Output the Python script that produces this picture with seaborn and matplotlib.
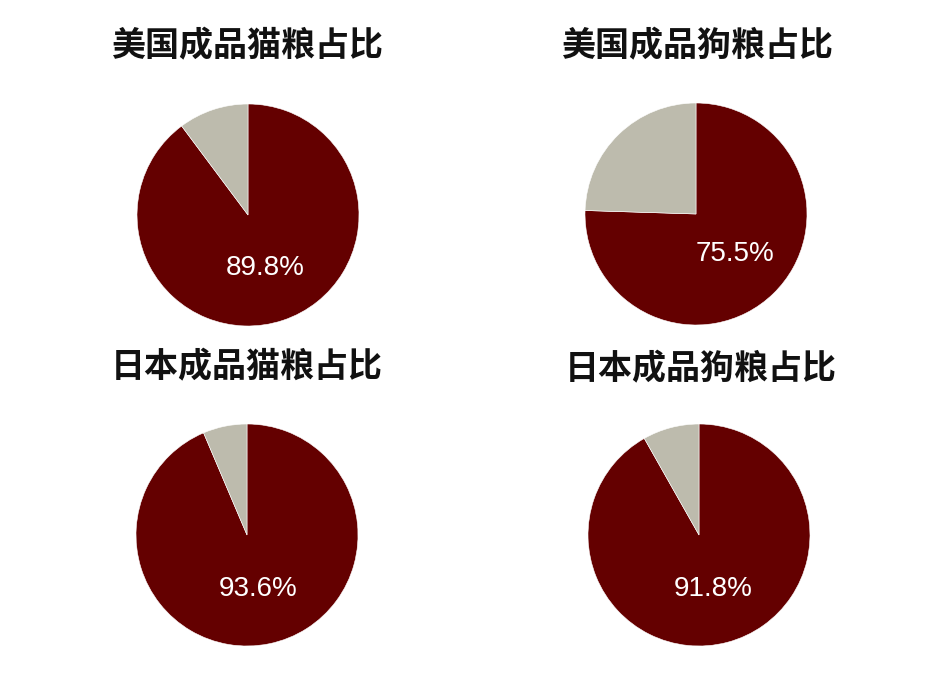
import matplotlib
matplotlib.use("Agg")
import matplotlib.pyplot as plt
import seaborn as sns

# --- DATA ---
TITLES = ["美国成品猫粮占比", "美国成品狗粮占比", "日本成品猫粮占比", "日本成品狗粮占比"]
SHARE_PCT = [89.8, 75.5, 93.6, 91.8]
SLICE_NAMES = ["成品", "其他"]

# --- STYLE ---
RED = "#640000"
GRAY = "#BDBBAD"
W, H = 932, 682
RADIUS_PX = 111
# pie centres and title centres in pixels (y measured from top)
CENTERS = [(248, 215), (696, 214), (247, 535), (699, 535)]
TITLE_POS = [(247, 46), (697, 46), (247, 367), (701, 369)]

sns.set_theme(style="white")
plt.rcParams["font.family"] = ["Noto Sans CJK SC", "DejaVu Sans"]

fig = plt.figure(figsize=(W / 100, H / 100), dpi=100)
fig.patch.set_facecolor("white")
palette = sns.color_palette([RED, GRAY])

for title, pct, (cx, cy), (tx, ty) in zip(TITLES, SHARE_PCT, CENTERS, TITLE_POS):
    # pie() sets limits to +-1.25, so the axes box is 2.5 radii wide
    side = 2.5 * RADIUS_PX
    ax = fig.add_axes([(cx - side / 2) / W, (H - cy - side / 2) / H, side / W, side / H])
    values = [pct, 100 - pct]
    ax.pie(values, colors=palette, startangle=90, counterclock=False,
           autopct=lambda p: f"{p:.1f}%" if p > 50 else "",
           pctdistance=0.5,
           wedgeprops=dict(linewidth=0.4, edgecolor="white"),
           textprops=dict(color="white", fontsize=20, family="Liberation Sans"))
    ax.set_aspect("equal")
    fig.text(tx / W, 1 - ty / H, title, ha="center", va="center",
             fontsize=24.5, fontweight="bold", color="#111111")

plt.savefig("out.png", dpi=100, facecolor="white")
